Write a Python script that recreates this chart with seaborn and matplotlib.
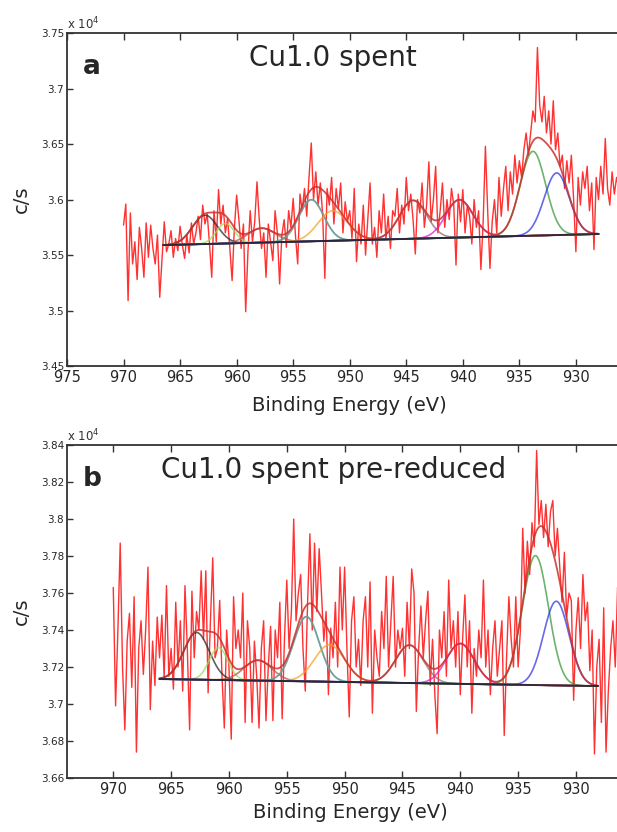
import numpy as np
import pandas as pd
import matplotlib
matplotlib.use("Agg")
import matplotlib.pyplot as plt
import seaborn as sns

# ---------------------------------------------------------------
# Cu 2p XPS spectra (counts per second), 0.2 eV steps from 970.0 eV
# ---------------------------------------------------------------
energy_start = 970.0
energy_step = 0.2

counts_spent = [
    35770, 35960, 35090, 35880, 35420, 35620, 35280, 35750, 35560, 35300,
    35790, 35480, 35770, 35560, 35420, 35680, 35120, 35460, 35800, 35530,
    35600, 35720, 35480, 35650, 35540, 35760, 35590, 35470, 35680, 35520,
    35790, 35600, 35700, 35850, 35640, 35950, 35780, 35870, 35600, 35300,
    35900, 35620, 36090, 35780, 35950, 35700, 35830, 35560, 35270, 35740,
    36040, 35820, 35560, 35780, 34990, 35530, 35900, 35620, 35800, 36160,
    35820, 35560, 35700, 35300, 35780, 35620, 35450, 35900, 35700, 35240,
    35680, 35820, 35570, 35900, 35750, 36010, 35680, 35420, 36050, 35900,
    36100, 35850, 36200, 36510, 36000, 36250, 35950, 36150, 35880, 35290,
    36100, 35950, 36200, 35780, 36100, 35920, 36150, 35700, 35980, 35800,
    35900, 35650, 36100, 35440, 35780, 35600, 35950, 35500, 35820, 36150,
    35600, 35750, 35480, 35900, 35700, 36050, 35640, 35850, 35560, 35900,
    35850, 36100, 35700, 35950, 35780, 36200, 35900, 36050, 35820, 35510,
    36000, 35880, 36150, 35750, 35950, 36340, 35800, 36000, 36300, 35700,
    35900, 36150, 35750, 36000, 35820, 36100, 35950, 35410, 36050, 35800,
    36090, 35700, 35950, 35850, 35600, 36000, 35750, 35900, 35370, 35800,
    36480, 35900, 35380, 35800, 36000, 35700, 36200, 35850, 36100, 36300,
    35900, 36250, 36050, 36400, 36150, 36350, 36200, 36450, 36600, 36400,
    36600, 36800, 36700, 37370, 36850, 36700, 36930, 36600, 36800, 36500,
    36890, 36450, 36600, 36300, 36400, 36100, 36350, 36150, 36400, 36000,
    35530, 36200, 35950, 36250, 36100, 36300, 35900, 36150, 35550, 36200,
    36000, 36300, 36050, 36550, 36100, 35950, 36250, 36050, 36200, 36100,
]

counts_prereduced = [
    37630, 36990, 37400, 37870, 37200, 36860, 37340, 37490, 37090, 37580,
    36740, 37300, 37450, 37160, 37400, 37740, 36970, 37340, 37100, 37470,
    37250, 37480, 37140, 37640, 37150, 37300, 37080, 37550, 37200, 37450,
    37070, 37640, 37300, 36860, 37610, 37250, 37500, 37400, 37720, 37350,
    37720, 37060, 37450, 37790, 37250, 37300, 37560, 37150, 36870, 37400,
    37200, 36810, 37580, 37300, 37400, 37250, 37600, 36900, 37450, 37300,
    36900, 37340, 37150, 36870, 37300, 37450, 36910, 37200, 37420, 36910,
    37400, 37250, 37550, 36920, 37350, 37670, 37300, 37500, 38000, 37450,
    37600, 37700, 37300, 37070, 37550, 37920, 37400, 37870, 37500, 37840,
    37600, 37340, 37500, 37050, 37410, 37250, 37550, 37200, 37740, 37400,
    37740, 37300, 36930, 37450, 37580, 37200, 37350, 37100, 37450, 37580,
    37200, 37660, 36950, 37400, 37250, 37150, 37500, 37300, 37690, 37200,
    37450, 37690, 37200, 37400, 37300, 37410, 37150, 37550, 37300, 37730,
    37600, 36960, 37300, 37530, 37250, 37450, 37610, 37100, 37350, 37050,
    36840, 37400, 37250, 37500, 37150, 37670, 37300, 37450, 37200, 37500,
    37050, 37350, 37590, 37200, 37450, 36950, 37300, 37150, 37400, 37250,
    37670, 37200, 37400, 37050, 37300, 37450, 37150, 37300, 37450, 36830,
    37250, 37580, 37350, 37200, 37580, 37200, 37400, 37950, 37600, 37880,
    37700, 37980, 37850, 38370, 37970, 38100, 37900, 38080, 37850, 38040,
    38100, 37800, 37950, 37740, 37550, 37820, 37470, 37600, 37560, 37020,
    37400, 37575, 37300, 37700, 37450, 37550, 37180, 37400, 36730, 37200,
    37350, 36900, 37520, 36740, 37070, 37300, 37450, 37200, 37630, 37400,
]

# Fit window and linear background end points (eV, c/s)
fit_range_spent = [966.5, 928.0]
background_spent = [35590, 35690]
fit_range_prereduced = [966.0, 928.1]
background_prereduced = [37135, 37097]

# Gaussian components: centre (eV), height above background (c/s), sigma (eV)
peak_centres_spent = [962.8, 961.0, 957.8, 953.4, 953.4, 951.5, 944.4, 940.3, 933.8, 931.7]
peak_heights_spent = [260, 180, 130, 375, 375, 270, 345, 340, 760, 560]
peak_centres_prereduced = [962.8, 960.9, 957.5, 953.3, 953.3, 951.3, 944.4, 940.0, 933.5, 931.7]
peak_heights_prereduced = [255, 175, 110, 350, 350, 200, 205, 218, 700, 455]
peak_sigmas = [1.1, 0.8, 1.2, 1.1, 1.1, 1.3, 1.2, 1.2, 1.12, 1.1]
peak_colors = ["#2b2b2b", "#9be05a", "#b4544e", "#1ec8c8", "#8a8a8a",
               "#f2a52a", "#8c6e6e", "#e61ec8", "#3c9a3c", "#3535e6"]
# the grey line is drawn on top of the cyan one (same component), counted once
envelope_mask = [1, 1, 1, 1, 0, 1, 1, 1, 1, 1]

panel_titles = ["Cu1.0 spent", "Cu1.0 spent pre-reduced"]
panel_letters = ["a", "b"]
xticks_list = [[975, 970, 965, 960, 955, 950, 945, 940, 935, 930],
               [970, 965, 960, 955, 950, 945, 940, 935, 930]]
xlims = [(975, 925), (974, 925)]
yticks_list = [[34500, 35000, 35500, 36000, 36500, 37000, 37500],
               [36600, 36800, 37000, 37200, 37400, 37600, 37800, 38000, 38200, 38400]]
ylims = [(34500, 37500), (36600, 38400)]
xlabel_pads = [8, 4]

sns.set_style("ticks")
plt.rcParams["font.family"] = ["DejaVu Sans"]

fig = plt.figure(figsize=(6.17, 8.32), dpi=100)
ax_a = fig.add_axes([0.1086, 0.5600, 0.9164, 0.4002])
ax_b = fig.add_axes([0.1086, 0.0649, 0.9186, 0.4002])

panels = [
    (ax_a, counts_spent, fit_range_spent, background_spent,
     peak_centres_spent, peak_heights_spent),
    (ax_b, counts_prereduced, fit_range_prereduced, background_prereduced,
     peak_centres_prereduced, peak_heights_prereduced),
]

for i, (ax, counts, frange, bg, centres, heights) in enumerate(panels):
    energy = np.round(energy_start - energy_step * np.arange(len(counts)), 2)
    df = pd.DataFrame({"Binding Energy (eV)": energy, "c/s": counts})
    sns.lineplot(data=df, x="Binding Energy (eV)", y="c/s", ax=ax,
                 color="#ff1a1a", lw=1.0, sort=False, estimator=None, alpha=0.9)

    e_fit = np.linspace(frange[0], frange[1], 400)
    background = np.interp(e_fit, frange[::-1], bg[::-1])
    envelope = background.copy()
    for c, h, s, col, use in zip(centres, heights, peak_sigmas, peak_colors, envelope_mask):
        comp = h * np.exp(-(e_fit - c) ** 2 / (2 * s ** 2))
        ax.plot(e_fit, background + comp, color=col, lw=1.2, alpha=0.75)
        if use:
            envelope = envelope + comp
    ax.plot(e_fit, envelope, color="#c8322d", lw=1.3, alpha=0.85)
    ax.plot(e_fit, background, color="#222222", lw=1.4, alpha=0.85)

    ax.set_xlim(*xlims[i])
    ax.set_ylim(*ylims[i])
    ax.set_xticks(xticks_list[i])
    ax.set_xticklabels([str(t) for t in xticks_list[i]], fontsize=10.5)
    ax.set_yticks(yticks_list[i])
    ax.set_yticklabels([f"{t / 1e4:g}" for t in yticks_list[i]], fontsize=7.5)
    ax.tick_params(axis="x", direction="in", top=True, bottom=True, length=5,
                   width=1.0, color="#333333", pad=3)
    ax.tick_params(axis="y", direction="in", left=True, right=False, length=4,
                   width=1.0, color="#333333", pad=2)
    for sp in ax.spines.values():
        sp.set_color("#333333")
        sp.set_linewidth(1.3)
    ax.set_xlabel("Binding Energy (eV)", fontsize=14, labelpad=xlabel_pads[i])
    ax.set_ylabel("c/s", fontsize=14, labelpad=7)
    ax.text(0.0, 1.002, r"x 10$^4$", transform=ax.transAxes, fontsize=8.5,
            ha="left", va="bottom", color="#333333")
    ax.text(0.044, 0.898, panel_letters[i], transform=ax.transAxes, fontsize=19,
            fontweight="bold", ha="center", va="center")
    ax.text(0.47, 0.925, panel_titles[i], transform=ax.transAxes, fontsize=20,
            ha="center", va="center")

fig.savefig("out.png", dpi=100)
